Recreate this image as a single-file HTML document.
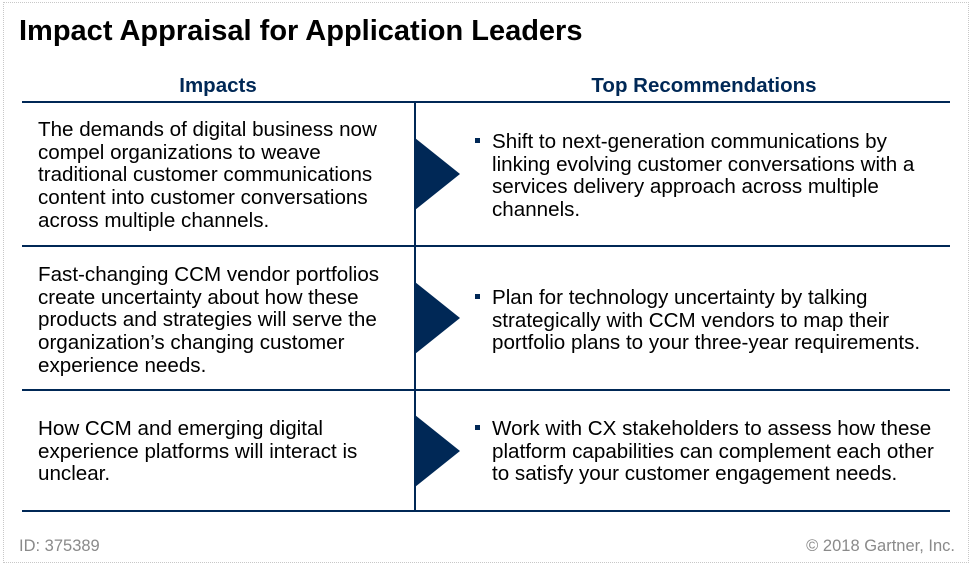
<!DOCTYPE html>
<html><head><meta charset="utf-8"><style>
*{margin:0;padding:0;box-sizing:border-box}
body{width:972px;height:566px;background:#fff;position:relative;overflow:hidden;font-family:"Liberation Sans",Arial,sans-serif;color:#000}
.frame{position:absolute;left:3px;top:2px;width:966px;height:561px;border:1px dotted #c8c8c8}
.a{position:absolute;white-space:nowrap}
.t{font-size:20.6px;line-height:22.7px}
.h{font-size:20.5px;font-weight:bold;color:#002856;text-align:center}
.hl{position:absolute;left:22px;width:928px;height:2px;background:#002856}
.b{position:absolute;left:475px;width:5px;height:5px;background:#002856}
</style></head><body>
<div class="frame"></div>
<div class="a" style="left:19px;top:15px;font-size:29px;font-weight:bold">Impact Appraisal for Application Leaders</div>
<div class="a h" style="left:22px;width:392px;top:74px">Impacts</div>
<div class="a h" style="left:416px;width:576px;top:74px">Top Recommendations</div>
<div class="hl" style="top:101px"></div>
<div class="hl" style="top:245px"></div>
<div class="hl" style="top:389px"></div>
<div class="hl" style="top:510px"></div>
<div class="a" style="left:414px;top:101px;width:2px;height:411px;background:#002856"></div>
<svg class="a" style="left:0;top:0" width="972" height="566">
<polygon points="415,138 460,174 415,210" fill="#002856"/>
<polygon points="415,282 460,318 415,354" fill="#002856"/>
<polygon points="415,415 460,451 415,487" fill="#002856"/>
</svg>
<div class="a t" style="left:38px;top:119px">The demands of digital business now<br>compel organizations to weave<br>traditional customer communications<br>content into customer conversations<br>across multiple channels.</div>
<div class="a t" style="left:38px;top:264px">Fast-changing CCM vendor portfolios<br>create uncertainty about how these<br>products and strategies will serve the<br>organization’s changing customer<br>experience needs.</div>
<div class="a t" style="left:38px;top:418px">How CCM and emerging digital<br>experience platforms will interact is<br>unclear.</div>
<div class="b" style="top:138px"></div>
<div class="a t" style="left:492px;top:131px">Shift to next-generation communications by<br>linking evolving customer conversations with a<br>services delivery approach across multiple<br>channels.</div>
<div class="b" style="top:294px"></div>
<div class="a t" style="left:492px;top:287px">Plan for technology uncertainty by talking<br>strategically with CCM vendors to map their<br>portfolio plans to your three-year requirements.</div>
<div class="b" style="top:425px"></div>
<div class="a t" style="left:492px;top:418px">Work with CX stakeholders to assess how these<br>platform capabilities can complement each other<br>to satisfy your customer engagement needs.</div>
<div class="a" style="left:19px;top:537px;font-size:16.5px;color:#8a8a8a">ID: 375389</div>
<div class="a" style="right:17px;top:537px;font-size:16.5px;color:#8a8a8a">© 2018 Gartner, Inc.</div>
</body></html>
